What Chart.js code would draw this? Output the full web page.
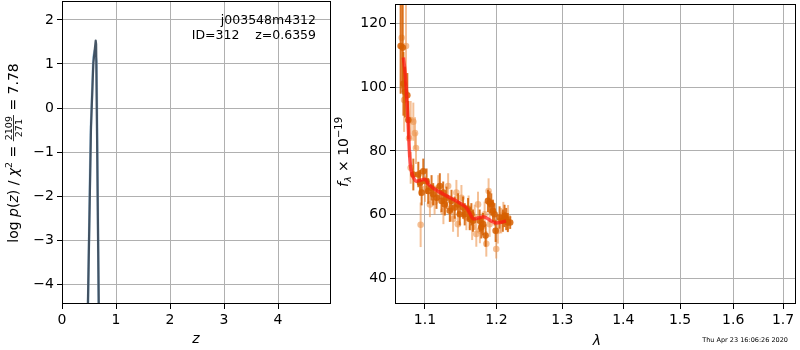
<!DOCTYPE html>
<html>
<head>
<meta charset="utf-8">
<script src="https://cdn.jsdelivr.net/npm/chart.js@4/dist/chart.umd.min.js"></script>
<style>
  body { margin: 0; background: #fff; }
  #wrap { position: relative; width: 800px; height: 350px; }
  canvas { position: absolute; top: 0; }
</style>
</head>
<body>
<div id="wrap">
  <canvas id="pzChart" width="335" height="350" style="left:0"></canvas>
  <canvas id="specChart" width="475" height="350" style="left:325px"></canvas>
</div>
<script>
// log p(z) curves
const zGrid = [0.44, 0.48, 0.537, 0.58, 0.624, 0.632, 0.68, 0.70];
const logPz = [-7.5, -4.45, -0.43, 1.02, 1.53, 1.45, -4.45, -7.5];
const zGrid2 = [0.45, 0.53, 0.58, 0.605, 0.64, 0.68, 0.70];
const logPz2 = [-7.0, -0.6, 1.15, 1.3, 1.05, -4.6, -7.0];

// spectrum, darker points
const waveA = [1.0680, 1.0707, 1.0716, 1.0737, 1.0767, 1.0780, 1.0846, 1.0912, 1.0934, 1.0956,
  1.0978, 1.1022, 1.1044, 1.1089, 1.1111, 1.1156, 1.1201, 1.1224, 1.1247, 1.1269,
  1.1292, 1.1338, 1.1361, 1.1406, 1.1452, 1.1476, 1.1522, 1.1545, 1.1592, 1.1615,
  1.1639, 1.1662, 1.1757, 1.1780, 1.1804, 1.1842, 1.1876, 1.1900, 1.1924, 1.1948,
  1.1972, 1.1987, 1.2045, 1.2093, 1.2118, 1.2142, 1.2166, 1.2201];
const fluxA = [113.0, 112.5, 101.1, 98.5, 97.5, 89.7, 72.6, 72.6, 70.0, 66.9,
  73.6, 70.5, 67.4, 68.4, 66.4, 65.3, 69.0, 64.3, 66.9, 63.2,
  65.3, 61.2, 64.3, 62.2, 63.2, 60.1, 62.2, 60.1, 61.7, 58.6,
  60.1, 58.1, 58.1, 56.0, 57.0, 53.4, 64.3, 63.8, 63.2, 61.2,
  60.1, 54.9, 59.1, 58.1, 59.6, 58.6, 57.5, 57.5];
const errA = [15, 14, 10, 8, 7, 6, 5, 4, 4, 4,
  4, 4, 4, 4, 3.5, 3.5, 4, 3.5, 3.5, 3.5,
  3.5, 3.5, 3.5, 3.5, 3.5, 3.5, 3.5, 3.5, 3.5, 3.5,
  3.5, 3.5, 3.5, 3.5, 3.5, 3.5, 3.5, 3.5, 3.5, 3.5,
  3.5, 3.5, 3.5, 3.5, 3.5, 3.5, 3, 2];

// spectrum, lighter points
const waveB = [1.0694, 1.0725, 1.0750, 1.0790, 1.0811, 1.0846, 1.0868, 1.0881, 1.0811, 1.0943,
  1.1000, 1.1067, 1.1130, 1.1179, 1.1250, 1.1315, 1.1350, 1.1383, 1.1429, 1.1450,
  1.1499, 1.1568, 1.1600, 1.1650, 1.1686, 1.1709, 1.1733, 1.1760, 1.1828, 1.1852,
  1.1885, 1.1900, 1.1996, 1.2020, 1.2069, 1.2100, 1.2170];
const fluxB = [115.6, 96.0, 113.0, 84.0, 89.7, 89.2, 85.6, 80.9, 74.7, 56.8,
  68.0, 63.2, 64.0, 68.4, 61.0, 69.0, 62.0, 58.6, 66.9, 57.0,
  65.3, 59.1, 62.0, 56.0, 59.1, 53.9, 63.2, 55.0, 60.1, 50.8,
  67.4, 57.0, 49.2, 54.9, 58.1, 60.0, 59.0];
const errB = [16, 10, 14, 6, 6, 6, 5, 5, 5, 7,
  4, 4, 4, 4, 4, 4, 4, 4, 4, 4,
  4, 4, 4, 4, 4, 4, 4, 4, 4, 4,
  4, 4, 3, 4, 4, 4, 4];

// model
const modelWave = [1.0716, 1.0740, 1.0758, 1.0775, 1.0790, 1.0805, 1.0821, 1.0850, 1.0889, 1.0940,
  1.1000, 1.1050, 1.1111, 1.1180, 1.1246, 1.1340, 1.1430, 1.1500, 1.1571, 1.1620,
  1.1664, 1.1710, 1.1756, 1.1800, 1.1850, 1.1920, 1.1995, 1.2070, 1.2140];
const modelFlux = [109.4, 104.0, 97.6, 90.0, 82.0, 76.0, 73.6, 71.5, 70.5, 70.8,
  71.1, 69.5, 68.3, 67.3, 66.5, 65.3, 64.3, 63.3, 62.1, 60.3,
  58.7, 58.8, 59.0, 59.3, 59.0, 58.0, 57.4, 57.6, 58.0];

const zTicks = [0, 1, 2, 3, 4];
const lnpTicks = [-4, -3, -2, -1, 0, 1, 2];
const waveTicks = [1.1, 1.2, 1.3, 1.4, 1.5, 1.6, 1.7];
const fluxTicks = [40, 60, 80, 100, 120];

const FONT = 'DejaVu Sans';
const pts = (xs, ys) => xs.map((x, i) => ({ x: x, y: ys[i] }));

const frame = {
  id: 'frame',
  afterDraw(chart) {
    const a = chart.chartArea, ctx = chart.ctx;
    ctx.save();
    ctx.strokeStyle = '#000';
    ctx.lineWidth = 1;
    ctx.strokeRect(a.left + 0.5, a.top + 0.5, a.right - a.left - 1, a.bottom - a.top - 1);
    ctx.restore();
  }
};

const errorBars = {
  id: 'errorBars',
  beforeDatasetDraw(chart, args) {
    const ds = chart.data.datasets[args.index];
    if (!ds.errors) return;
    const xs = chart.scales.x, ys = chart.scales.y, ctx = chart.ctx, a = chart.chartArea;
    ctx.save();
    ctx.beginPath();
    ctx.rect(a.left, a.top, a.right - a.left, a.bottom - a.top);
    ctx.clip();
    ctx.strokeStyle = ds.errColor;
    ctx.lineWidth = 2;
    ds.data.forEach((p, i) => {
      const px = xs.getPixelForValue(p.x);
      ctx.beginPath();
      ctx.moveTo(px, ys.getPixelForValue(p.y - ds.errors[i]));
      ctx.lineTo(px, ys.getPixelForValue(p.y + ds.errors[i]));
      ctx.stroke();
    });
    ctx.restore();
  }
};

// draw pieces of text in a row, each {t, size, italic, dy}
function drawRun(ctx, parts, cx, cy) {
  let total = 0;
  parts.forEach(p => {
    if (p.frac) {
      ctx.font = p.size + 'px "' + FONT + '"';
      p.w = Math.max(ctx.measureText(p.num).width, ctx.measureText(p.den).width) + 2;
    } else {
      ctx.font = (p.italic ? 'italic ' : '') + p.size + 'px "' + FONT + '"';
      p.w = ctx.measureText(p.t).width;
    }
    total += p.w;
  });
  let x = cx - total / 2;
  ctx.fillStyle = '#000';
  ctx.textBaseline = 'alphabetic';
  parts.forEach(p => {
    if (p.frac) {
      ctx.font = p.size + 'px "' + FONT + '"';
      ctx.textAlign = 'center';
      ctx.fillText(p.num, x + p.w / 2, cy - 6.5);
      ctx.fillText(p.den, x + p.w / 2, cy + 3.5);
      ctx.fillRect(x, cy - 5, p.w, 0.8);
      ctx.textAlign = 'left';
    } else {
      ctx.font = (p.italic ? 'italic ' : '') + p.size + 'px "' + FONT + '"';
      ctx.textAlign = 'left';
      ctx.fillText(p.t, x, cy + (p.dy || 0));
    }
    x += p.w;
  });
}

const pzText = {
  id: 'pzText',
  afterDraw(chart) {
    const ctx = chart.ctx;
    ctx.save();
    ctx.fillStyle = '#000';
    ctx.font = '12.5px "' + FONT + '"';
    ctx.textAlign = 'right';
    ctx.fillText('j003548m4312', 316, 24);
    ctx.fillText('ID=312    z=0.6359', 316, 39);
    ctx.font = 'italic 14px "' + FONT + '"';
    ctx.textAlign = 'center';
    ctx.fillText('z', 196, 343);
    ctx.translate(18, 153);
    ctx.rotate(-Math.PI / 2);
    drawRun(ctx, [
      { t: 'log ', size: 14 }, { t: 'p', size: 14, italic: true }, { t: '(', size: 14 },
      { t: 'z', size: 14, italic: true }, { t: ') / ', size: 14 },
      { t: 'χ', size: 14, italic: true }, { t: '2', size: 9.5, dy: -6 }, { t: ' = ', size: 14 },
      { frac: true, num: '2109', den: '271', size: 9.5 }, { t: ' = 7.78', size: 14 }
    ], 0, 0);
    ctx.restore();
  }
};

const specText = {
  id: 'specText',
  afterDraw(chart) {
    const ctx = chart.ctx;
    ctx.save();
    ctx.fillStyle = '#000';
    ctx.font = 'italic 14px "' + FONT + '"';
    ctx.textAlign = 'center';
    ctx.fillText('λ', 272, 345);
    ctx.font = '6.5px "' + FONT + '"';
    ctx.textAlign = 'right';
    ctx.fillText('Thu Apr 23 16:06:26 2020', 463, 342);
    ctx.translate(23, 152);
    ctx.rotate(-Math.PI / 2);
    drawRun(ctx, [
      { t: 'f', size: 14, italic: true }, { t: 'λ', size: 9.5, italic: true, dy: 3 },
      { t: ' × 10', size: 14 }, { t: '−19', size: 10, dy: -6 }
    ], 0, 0);
    ctx.restore();
  }
};

function axis(min, max, ticks, fixW, fixH, fmt, type) {
  return {
    type: type || 'linear',
    min: min, max: max,
    afterBuildTicks: s => { s.ticks = ticks.map(v => ({ value: v })); },
    afterFit: s => {
      if (fixW) s.width = fixW;
      if (fixH) s.height = fixH;
      s.paddingTop = 0; s.paddingBottom = 0; s.paddingLeft = 0; s.paddingRight = 0;
    },
    grid: { color: '#b0b0b0', lineWidth: 1, tickColor: '#000', tickLength: 5, drawTicks: true },
    border: { display: false },
    ticks: {
      color: '#000', padding: 3, maxRotation: 0, autoSkip: false,
      font: { family: FONT, size: 14 },
      callback: fmt
    }
  };
}

const minus = v => (v < 0 ? '−' + Math.abs(v) : String(v));

// dataset 0 is drawn last (on top)
new Chart(document.getElementById('pzChart').getContext('2d'), {
  type: 'scatter',
  data: {
    datasets: [
      { data: pts(zGrid, logPz), showLine: true, borderColor: 'rgba(55,72,88,0.92)',
        borderWidth: 2.2, pointRadius: 0, borderJoinStyle: 'round' },
      { data: pts(zGrid2, logPz2), showLine: true, borderColor: 'rgba(140,185,220,0.7)',
        borderWidth: 2.5, pointRadius: 0, borderJoinStyle: 'round' }
    ]
  },
  options: {
    responsive: false, animation: false, events: [],
    layout: { padding: { top: 1, right: 4, left: 0, bottom: 0 } },
    plugins: { legend: { display: false }, tooltip: { enabled: false } },
    scales: {
      x: axis(0, 4.98, zTicks, null, 46, v => String(v)),
      y: axis(-4.45, 2.43, lnpTicks, 62, null, minus)
    }
  },
  plugins: [frame, pzText]
});

new Chart(document.getElementById('specChart').getContext('2d'), {
  type: 'scatter',
  data: {
    datasets: [
      { data: pts(modelWave, modelFlux), showLine: true, borderColor: 'rgba(255,20,20,0.7)',
        borderWidth: 3.5, pointRadius: 0, cubicInterpolationMode: 'monotone' },
      { data: pts(waveA, fluxA), errors: errA, errColor: 'rgba(214,95,0,0.85)',
        backgroundColor: 'rgba(214,95,0,0.85)', borderWidth: 0, pointRadius: 3.3 },
      { data: pts(waveB, fluxB), errors: errB, errColor: 'rgba(236,150,80,0.6)',
        backgroundColor: 'rgba(236,150,80,0.6)', borderWidth: 0, pointRadius: 3.3 }
    ]
  },
  options: {
    responsive: false, animation: false, events: [],
    layout: { padding: { top: 1, right: 2, left: 0, bottom: 0 } },
    plugins: { legend: { display: false }, tooltip: { enabled: false } },
    scales: {
      x: axis(1.0607, 1.727, waveTicks, null, 46, v => Number(v).toFixed(1), 'logarithmic'),
      y: axis(31.9, 126.2, fluxTicks, 70, null, v => String(v))
    }
  },
  plugins: [frame, errorBars, specText]
});
</script>
</body>
</html>
